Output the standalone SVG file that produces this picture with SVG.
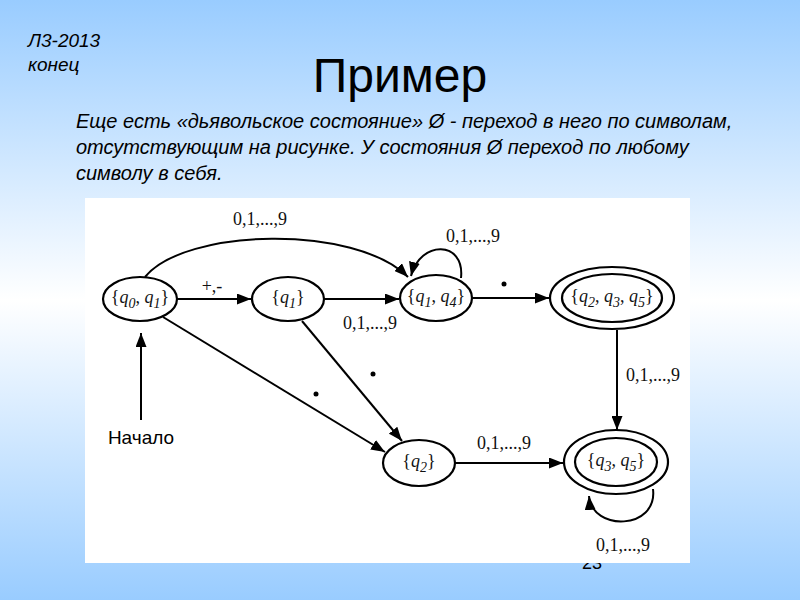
<svg xmlns="http://www.w3.org/2000/svg" width="800" height="600" viewBox="0 0 800 600">
  <defs>
    <linearGradient id="bg" x1="0" y1="0" x2="0" y2="1">
      <stop offset="0" stop-color="#99CCFF"/>
      <stop offset="0.5" stop-color="#FFFFFF"/>
      <stop offset="1" stop-color="#99CCFF"/>
    </linearGradient>
    <marker id="arr" markerUnits="userSpaceOnUse" markerWidth="15" markerHeight="11" refX="14" refY="5.5" orient="auto">
      <path d="M0,0 L14,5.5 L0,11 z" fill="#000"/>
    </marker>
  </defs>
  <style>
    .hdr { font-family: "Liberation Sans", Arial, sans-serif; fill: #000; }
    .it { font-style: italic; }
    .node ellipse { fill: #fff; stroke: #000; stroke-width: 2.2; }
    .lbl { font-family: "Liberation Serif", "Times New Roman", serif; font-size: 18px; fill: #111; text-anchor: middle; }
    .q { font-style: italic; }
    .sub { font-style: italic; font-size: 14px; }
    .el { font-family: "Liberation Serif", "Times New Roman", serif; font-size: 18px; fill: #111; text-anchor: middle; }
    .edge { fill: none; stroke: #000; stroke-width: 2; marker-end: url(#arr); }
  </style>

  <rect x="0" y="0" width="800" height="600" fill="url(#bg)"/>

  <text class="hdr it" x="28" y="47" font-size="19">Л3-2013</text>
  <text class="hdr it" x="28" y="71" font-size="19">конец</text>
  <text class="hdr" x="400" y="92" font-size="48" text-anchor="middle">Пример</text>
  <text class="hdr it" x="76" y="128" font-size="20">Еще есть «дьявольское состояние» Ø - переход в него по символам,</text>
  <text class="hdr it" x="76" y="154" font-size="20">отсутствующим на рисунке. У состояния Ø переход по любому</text>
  <text class="hdr it" x="76" y="180" font-size="20">символу в себя.</text>

  <text class="hdr" x="582" y="569" font-size="18" fill="#333">23</text>

  <rect x="85" y="198" width="605" height="365" fill="#FFFFFF"/>

  <g id="connectors">
    <path class="edge" d="M145,277 C185,228 355,224 408,277"/>
    <line class="edge" x1="177" y1="299" x2="251" y2="299"/>
    <line class="edge" x1="324" y1="299" x2="399" y2="299"/>
    <path class="edge" d="M461,278 C465,240 420,240 411,276"/>
    <line class="edge" x1="472" y1="298" x2="549" y2="298"/>
    <line class="edge" x1="617" y1="330" x2="617" y2="430"/>
    <line class="edge" x1="163" y1="317" x2="385" y2="452"/>
    <line class="edge" x1="302" y1="321" x2="402" y2="441"/>
    <line class="edge" x1="455" y1="463" x2="563" y2="463"/>
    <path class="edge" d="M653,489 C658,530 592,532 589,496"/>
    <line class="edge" x1="141" y1="420" x2="141" y2="333"/>

    <text class="el" x="260" y="225">0,1,...,9</text>
    <text class="el" x="212" y="292">+,-</text>
    <text class="el" x="370" y="329">0,1,...,9</text>
    <text class="el" x="473" y="242">0,1,...,9</text>
    <circle cx="504" cy="284" r="2.5" fill="#000"/>
    <circle cx="316" cy="394" r="2.5" fill="#000"/>
    <circle cx="373" cy="374" r="2.5" fill="#000"/>
    <text class="el" x="653" y="381">0,1,...,9</text>
    <text class="el" x="504" y="449">0,1,...,9</text>
    <text class="el" x="623" y="551">0,1,...,9</text>
    <text class="hdr" x="141" y="444" font-size="19" text-anchor="middle" fill="#222">Начало</text>
  </g>

  <g id="n_q0q1" class="node">
    <ellipse cx="140" cy="299" rx="37" ry="22"/>
    <text class="lbl" x="140" y="303">{<tspan class="q">q</tspan><tspan class="sub" dy="5">0</tspan><tspan dy="-5">, </tspan><tspan class="q">q</tspan><tspan class="sub" dy="5">1</tspan><tspan dy="-5">}</tspan></text>
  </g>
  <g id="n_q1" class="node">
    <ellipse cx="288" cy="299" rx="36" ry="22"/>
    <text class="lbl" x="288" y="303">{<tspan class="q">q</tspan><tspan class="sub" dy="5">1</tspan><tspan dy="-5">}</tspan></text>
  </g>
  <g id="n_q1q4" class="node">
    <ellipse cx="436" cy="298" rx="36" ry="23"/>
    <text class="lbl" x="436" y="302">{<tspan class="q">q</tspan><tspan class="sub" dy="5">1</tspan><tspan dy="-5">, </tspan><tspan class="q">q</tspan><tspan class="sub" dy="5">4</tspan><tspan dy="-5">}</tspan></text>
  </g>
  <g id="n_q2q3q5" class="node">
    <ellipse cx="612" cy="298" rx="62" ry="31"/>
    <ellipse cx="612" cy="298" rx="50" ry="24"/>
    <text class="lbl" x="612" y="302">{<tspan class="q">q</tspan><tspan class="sub" dy="5">2</tspan><tspan dy="-5">, </tspan><tspan class="q">q</tspan><tspan class="sub" dy="5">3</tspan><tspan dy="-5">, </tspan><tspan class="q">q</tspan><tspan class="sub" dy="5">5</tspan><tspan dy="-5">}</tspan></text>
  </g>
  <g id="n_q2" class="node">
    <ellipse cx="419" cy="463" rx="36" ry="23"/>
    <text class="lbl" x="419" y="467">{<tspan class="q">q</tspan><tspan class="sub" dy="5">2</tspan><tspan dy="-5">}</tspan></text>
  </g>
  <g id="n_q3q5" class="node">
    <ellipse cx="616" cy="462" rx="52" ry="32"/>
    <ellipse cx="616" cy="462" rx="41" ry="24"/>
    <text class="lbl" x="616" y="466">{<tspan class="q">q</tspan><tspan class="sub" dy="5">3</tspan><tspan dy="-5">, </tspan><tspan class="q">q</tspan><tspan class="sub" dy="5">5</tspan><tspan dy="-5">}</tspan></text>
  </g>
</svg>
